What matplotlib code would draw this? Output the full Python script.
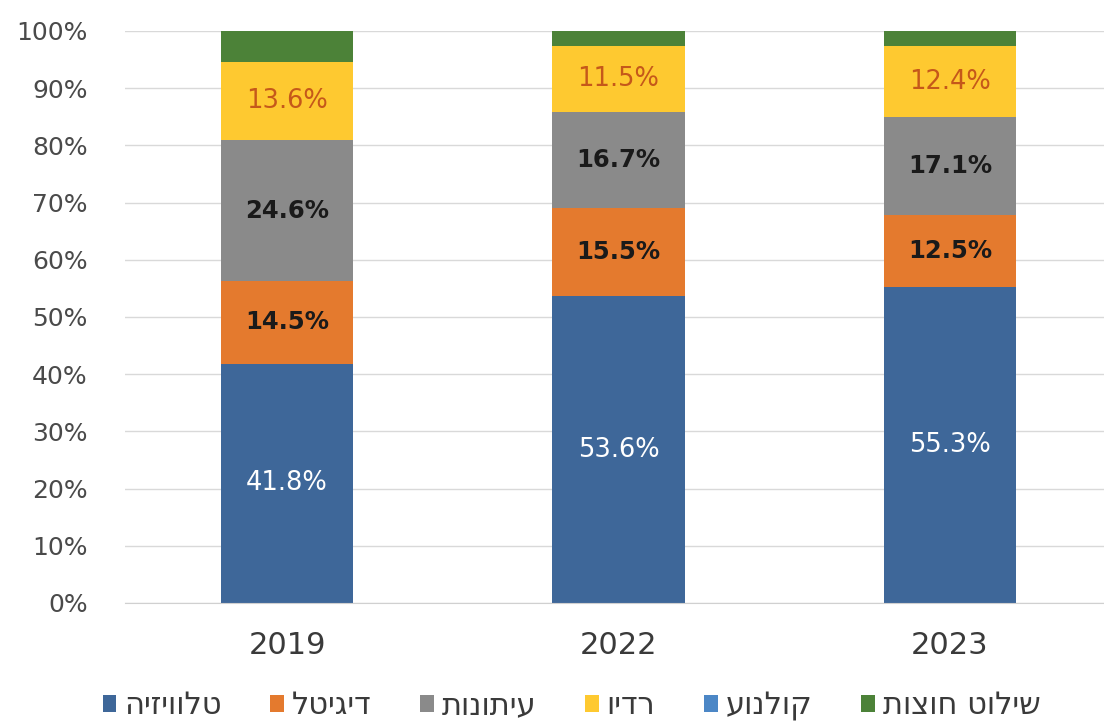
import numpy as np
from matplotlib import pyplot as plt
from matplotlib.ticker import PercentFormatter

years = ["2019", "2022", "2023"]

# media shares in percent, bottom segment first
tv = [41.8, 53.6, 55.3]
digital = [14.5, 15.5, 12.5]
press = [24.6, 16.7, 17.1]
radio = [13.6, 11.5, 12.4]
cinema = [0.0, 0.0, 0.0]
outdoor = [5.5, 2.7, 2.7]

names = ["טלוויזיה", "דיגיטל", "עיתונות", "רדיו", "קולנוע", "שילוט חוצות"]
colors = ["#3E6799", "#E47A2E", "#8A8A8A", "#FEC930", "#4C87C6", "#4C8238"]


def rtl(s):
    # matplotlib has no bidi, flip the hebrew by hand
    return s[::-1]


series = [tv, digital, press, radio, cinema, outdoor]
label_style = [
    dict(color="white", fontweight="normal", fontsize=18.5),
    dict(color="#1A1A1A", fontweight="bold", fontsize=17.5),
    dict(color="#1A1A1A", fontweight="bold", fontsize=17.5),
    dict(color="#C5581A", fontweight="normal", fontsize=18.5),
    None,
    None,
]

fig = plt.figure(figsize=(11.04, 7.21), dpi=100)
ax = fig.add_axes([125 / 1104, 118 / 721, (1104 - 125) / 1104, 572 / 721])

x = np.arange(len(years))
bottom = np.zeros(len(years))
for vals, name, col, style in zip(series, names, colors, label_style):
    vals = np.array(vals)
    bars = ax.bar(x, vals, 0.4, bottom=bottom, color=col, label=rtl(name), zorder=2)
    if style is not None:
        for rect, v, b in zip(bars, vals, bottom):
            ax.text(rect.get_x() + rect.get_width() / 2, b + v / 2, f"{v:.1f}%",
                    ha="center", va="center", **style)
    bottom += vals

ax.set_xlim(-0.489, 2.465)
ax.set_ylim(0, 100)
ax.set_yticks(np.arange(0, 101, 10))
ax.yaxis.set_major_formatter(PercentFormatter(decimals=0))
ax.set_xticks(x)
ax.set_xticklabels(years)
ax.grid(axis="y", color="#D9D9D9", linewidth=1, zorder=0)
for s in ax.spines.values():
    s.set_visible(False)
ax.spines["bottom"].set_visible(True)
ax.spines["bottom"].set_color("#D0D0D0")
ax.tick_params(axis="y", length=0, colors="#4A4A4A", labelsize=18, pad=27)
ax.tick_params(axis="x", length=0, colors="#3A3A3A", labelsize=22, pad=20)

ax.legend(loc="center", bbox_to_anchor=(0.456, -0.18), ncol=6, frameon=False,
          fontsize=22, handlelength=0.45, handleheight=0.45, handletextpad=0.25,
          columnspacing=1.6, labelcolor="#3A3A3A")

fig.savefig("out.png", dpi=100)
